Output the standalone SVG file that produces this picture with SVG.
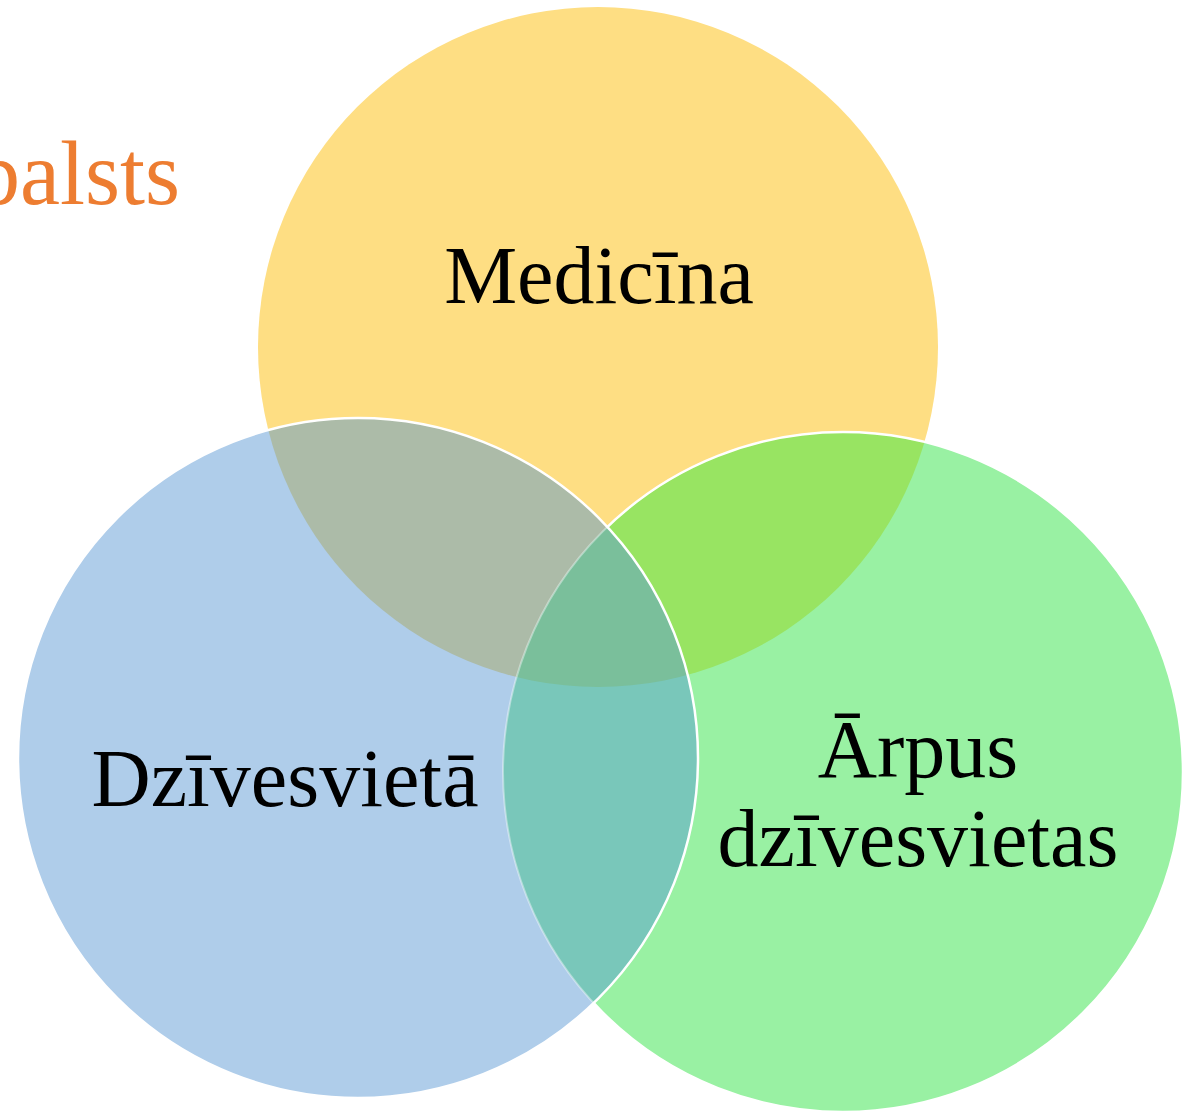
<svg xmlns="http://www.w3.org/2000/svg" width="1183" height="1114" viewBox="0 0 1183 1114">
<style>
.lbl{font-family:"Liberation Serif","Times New Roman",serif;font-size:82px;fill:#000;text-anchor:middle}
.side{font-family:"Liberation Serif","Times New Roman",serif;font-size:90px;fill:#ED7D31}
</style>
<defs>
<clipPath id="cy"><circle cx="598" cy="347" r="340"/></clipPath>
<clipPath id="cg"><circle cx="843" cy="772" r="340"/></clipPath>
<clipPath id="cb"><circle cx="358" cy="758" r="340"/></clipPath>
<clipPath id="notb"><path clip-rule="evenodd" d="M0 0H1183V1114H0Z M18 758a340 340 0 1 0 680 0a340 340 0 1 0 -680 0Z"/></clipPath>
</defs>
<rect width="1183" height="1114" fill="#ffffff"/>
<g id="side-text"><text class="side" x="-25" y="204">balsts</text></g>
<g id="node-medicina">
<circle cx="598" cy="347" r="340" fill="#FEDE83"/>
</g>
<g id="node-arpus">
<circle cx="843" cy="772" r="340" fill="#99F1A3"/>
</g>
<g id="node-dzivesvieta">
<circle cx="358" cy="758" r="340" fill="#AFCDEA"/>
</g>
<g id="overlaps">
<circle cx="843" cy="772" r="340" fill="#98E462" clip-path="url(#cy)"/>
<circle cx="358" cy="758" r="340" fill="#ACBBA8" clip-path="url(#cy)"/>
<circle cx="358" cy="758" r="340" fill="#79C7BA" clip-path="url(#cg)"/>
<g clip-path="url(#cy)"><circle cx="358" cy="758" r="340" fill="#7ABF9B" clip-path="url(#cg)"/></g>
</g>
<g id="outlines" fill="none">
<circle cx="843" cy="772" r="340" stroke="#ffffff" stroke-width="2.5" clip-path="url(#notb)"/>
<circle cx="843" cy="772" r="340" stroke="#ffffff" stroke-opacity="0.4" stroke-width="2" clip-path="url(#cb)"/>
<circle cx="358" cy="758" r="340" stroke="#ffffff" stroke-width="2.5"/>
</g>
<g id="labels">
<text class="lbl" x="599" y="303">Medicīna</text>
<text class="lbl" x="285" y="806">Dzīvesvietā</text>
<text class="lbl" x="918" y="777">Ārpus</text>
<text class="lbl" x="918" y="866">dzīvesvietas</text>
</g>
</svg>
